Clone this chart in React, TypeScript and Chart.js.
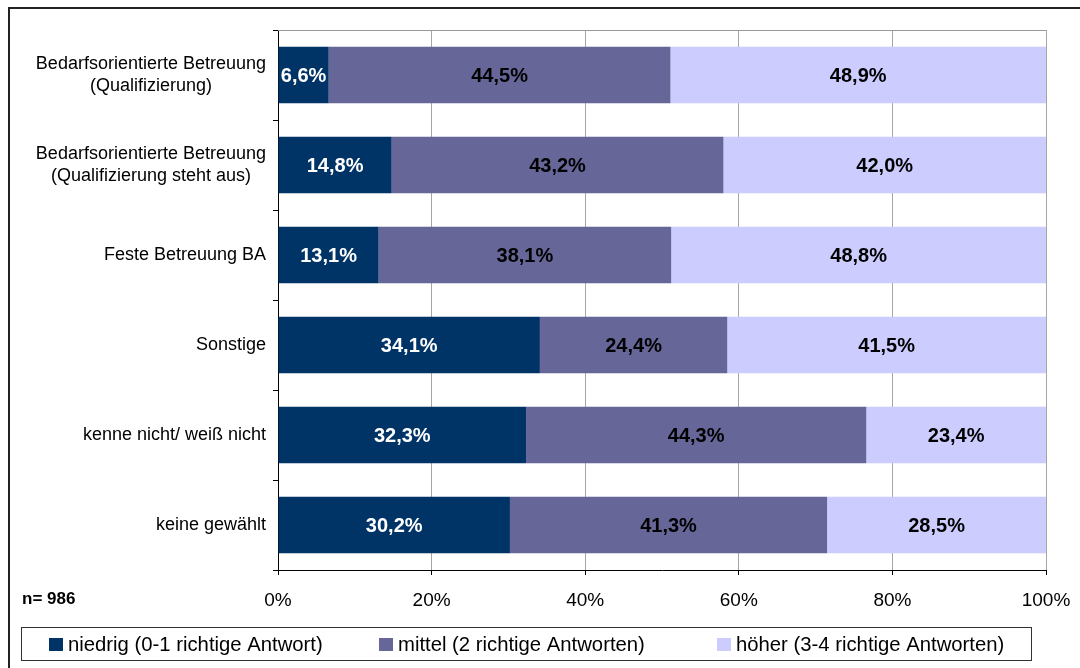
import React, { useEffect, useRef } from "react";
import { Chart, registerables } from "chart.js";

Chart.register(...registerables);

const categories: string[][] = [
  ["Bedarfsorientierte Betreuung", "(Qualifizierung)"],
  ["Bedarfsorientierte Betreuung", "(Qualifizierung steht aus)"],
  ["Feste Betreuung BA"],
  ["Sonstige"],
  ["kenne nicht/ weiß nicht"],
  ["keine gewählt"],
];

const seriesNames = [
  "niedrig (0-1 richtige Antwort)",
  "mittel (2 richtige Antworten)",
  "höher (3-4 richtige Antworten)",
];

const niedrig = [6.6, 14.8, 13.1, 34.1, 32.3, 30.2];
const mittel = [44.5, 43.2, 38.1, 24.4, 44.3, 41.3];
const hoeher = [48.9, 42.0, 48.8, 41.5, 23.4, 28.5];

const xTicks = [0, 20, 40, 60, 80, 100];
const sampleNote = "n= 986";

const colors = ["#003366", "#666699", "#CCCCFF"];
const labelColors = ["#ffffff", "#000000", "#000000"];
const FONT = "'Liberation Sans', Arial, sans-serif";

const fmt = (v: number) => v.toFixed(1).replace(".", ",") + "%";

const decorPlugin = {
  id: "decor",
  beforeDraw(chart: any) {
    const ctx = chart.ctx;
    ctx.save();
    ctx.fillStyle = "#ffffff";
    ctx.fillRect(0, 0, chart.width, chart.height);
    ctx.restore();
  },
  afterDatasetsDraw(chart: any) {
    const ctx = chart.ctx;
    const area = chart.chartArea;
    ctx.save();
    // plot top border
    ctx.strokeStyle = "#999999";
    ctx.lineWidth = 1;
    ctx.beginPath();
    ctx.moveTo(area.left, area.top + 0.5);
    ctx.lineTo(area.right, area.top + 0.5);
    ctx.stroke();

    // data labels
    ctx.font = `bold 20px ${FONT}`;
    ctx.textAlign = "center";
    ctx.textBaseline = "middle";
    chart.data.datasets.forEach((ds: any, di: number) => {
      const meta = chart.getDatasetMeta(di);
      meta.data.forEach((el: any, i: number) => {
        const cx = (el.x + el.base) / 2;
        ctx.fillStyle = labelColors[di];
        ctx.fillText(fmt(ds.data[i]), cx, el.y + 1);
      });
    });

    // category labels
    const yScale = chart.scales.y;
    ctx.font = `18px ${FONT}`;
    ctx.fillStyle = "#000000";
    ctx.textAlign = "center";
    const rightEdge = area.left - 12;
    const lh = 22;
    categories.forEach((lines, i) => {
      const yc = yScale.getPixelForValue(i);
      const maxW = Math.max(...lines.map((l) => ctx.measureText(l).width));
      const xc = rightEdge - maxW / 2;
      const y0 = yc - ((lines.length - 1) * lh) / 2;
      lines.forEach((l, k) => ctx.fillText(l, xc, y0 + k * lh));
    });

    // sample note
    ctx.font = `bold 17px ${FONT}`;
    ctx.textAlign = "left";
    ctx.fillText(sampleNote, 22, 599);

    // legend
    const lx = 21.5, ly = 627.5, lw = 1010, lhgt = 33;
    ctx.strokeStyle = "#333333";
    ctx.lineWidth = 1;
    ctx.strokeRect(lx, ly, lw, lhgt);
    const itemX = [49, 379, 717];
    ctx.font = `20.3px ${FONT}`;
    chart.data.datasets.forEach((ds: any, di: number) => {
      ctx.fillStyle = ds.backgroundColor;
      ctx.fillRect(itemX[di], 638, 14, 13);
      ctx.fillStyle = "#000000";
      ctx.textAlign = "left";
      ctx.textBaseline = "middle";
      ctx.fillText(ds.label, itemX[di] + 19, 645);
    });

    // outer frame
    ctx.strokeStyle = "#222222";
    ctx.lineWidth = 2;
    ctx.beginPath();
    ctx.moveTo(9, chart.height + 5);
    ctx.lineTo(9, 8);
    ctx.lineTo(chart.width + 5, 8);
    ctx.stroke();
    ctx.restore();
  },
};

export default function App() {
  const ref = useRef<HTMLCanvasElement | null>(null);
  useEffect(() => {
    if (!ref.current) return;
    const chart = new Chart(ref.current, {
      type: "bar",
      data: {
        labels: categories.map((c) => c.join(" ")),
        datasets: [niedrig, mittel, hoeher].map((d, i) => ({
          label: seriesNames[i],
          data: d,
          backgroundColor: colors[i],
          borderWidth: 0,
          categoryPercentage: 1,
          barPercentage: 0.63,
        })),
      },
      options: {
        indexAxis: "y",
        responsive: false,
        animation: false,
        devicePixelRatio: 1,
        layout: { padding: { top: 30, right: 34, left: 0, bottom: 58 } },
        plugins: { legend: { display: false }, tooltip: { enabled: false } },
        scales: {
          x: {
            stacked: true,
            min: 0,
            max: 100,
            afterBuildTicks: (scale: any) => {
              scale.ticks = xTicks.map((v) => ({ value: v }));
            },
            afterFit: (scale: any) => {
              scale.height = 40;
              scale.paddingLeft = 0;
              scale.paddingRight = 0;
            },
            ticks: {
              callback: (v: any) => v + "%",
              color: "#000000",
              font: { family: FONT, size: 19 },
              padding: 14,
              maxRotation: 0,
            },
            grid: {
              color: "#a6a6a6",
              tickColor: "#000000",
              tickLength: 5,
              lineWidth: 1,
            },
            border: { color: "#000000", width: 1 },
          },
          y: {
            stacked: true,
            afterFit: (scale: any) => {
              scale.width = 278;
              scale.paddingTop = 0;
              scale.paddingBottom = 0;
            },
            ticks: { display: false },
            grid: {
              offset: true,
              drawOnChartArea: false,
              tickLength: 5,
              color: "#000000",
              tickColor: "#000000",
            },
            border: { color: "#000000", width: 1 },
          },
        },
      },
      plugins: [decorPlugin],
    } as any);
    return () => chart.destroy();
  }, []);
  return (
    <div style={{ position: "fixed", left: 0, top: 0, width: 1080, height: 668 }}>
      <canvas ref={ref} width={1080} height={668} />
    </div>
  );
}
